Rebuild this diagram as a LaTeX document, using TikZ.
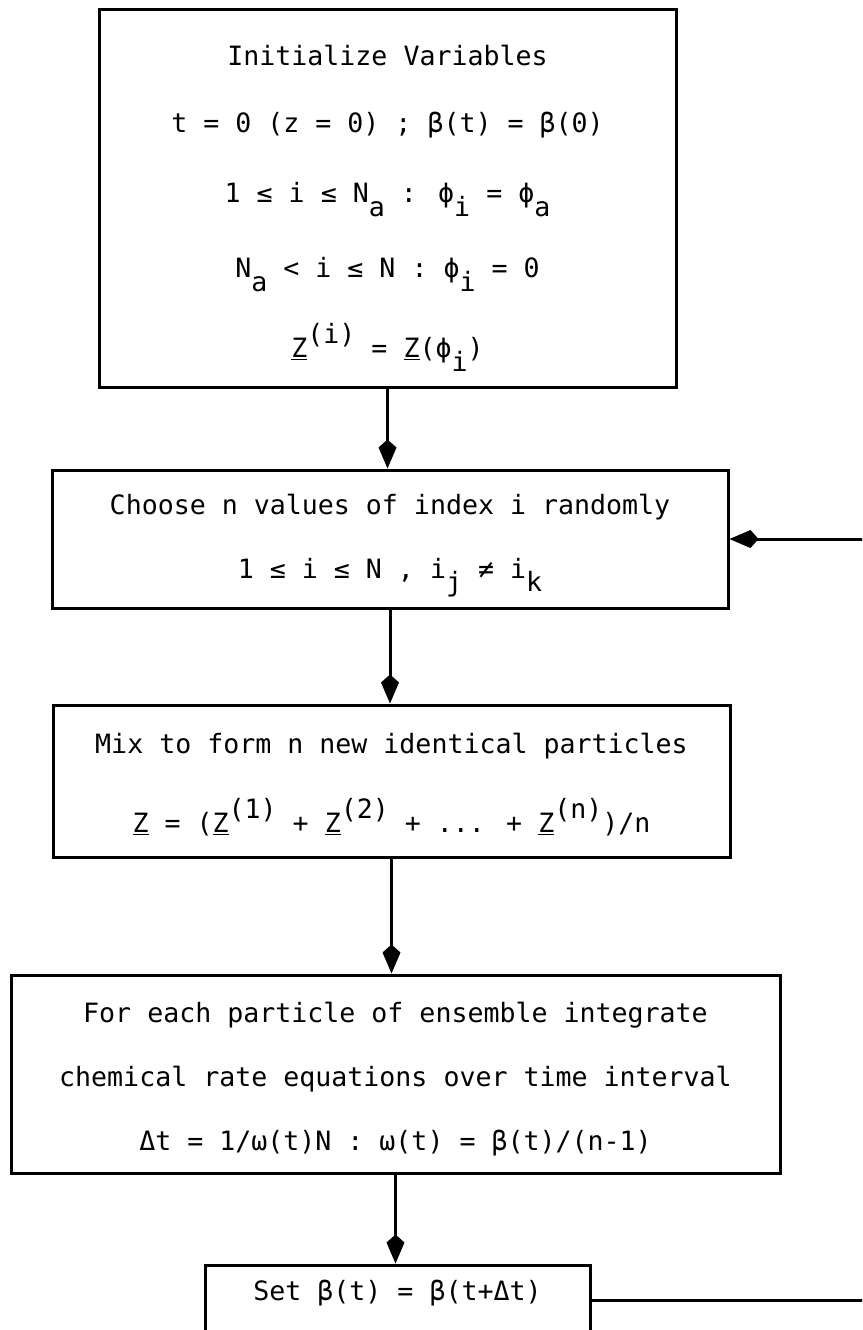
\documentclass[tikz,border=0pt]{standalone}
\usepackage{fontspec}
\newfontfamily\typefont{DejaVu Sans Mono}
\usetikzlibrary{arrows.meta}
\newcommand{\lo}[1]{\raisebox{-0.5em}{#1}}
\newcommand{\hi}[1]{\raisebox{0.55em}{#1}}
\begin{document}
\begin{tikzpicture}[x=1pt,y=-1pt,>={Kite[length=29pt,width=18pt,inset=8pt]},
  box/.style={draw,line width=3pt,align=center,inner sep=0pt,
    font=\typefont\fontsize{26.6pt}{64pt}\selectfont},
  flow/.style={->,line width=3pt}]
  \useasboundingbox (0,0) rectangle (862,1330);
  \clip (0,0) rectangle (862,1330);
  % The five steps of the mixing scheme.
  \node[box,minimum width=577pt,minimum height=377pt] (init) at (387.5,198.5)
    {\rule{0pt}{40pt}Initialize Variables\\[3pt]
     t = 0 (z = 0) ; β(t) = β(0)\\[6pt]
     1 ≤ i ≤ N\lo{a} : ϕ\lo{i} = ϕ\lo{a}\\[11pt]
     N\lo{a} < i ≤ N : ϕ\lo{i} = 0\\[16pt]
     \underline{Z}\hi{(i)} = \underline{Z}(ϕ\lo{i})};
  \node[box,minimum width=676pt,minimum height=138pt] (choose) at (390,539)
    {\rule{0pt}{34pt}Choose n values of index i randomly\\
     1 ≤ i ≤ N , i\lo{j} ≠ i\lo{k}};
  \node[box,minimum width=677pt,minimum height=152pt] (mix) at (391.5,781)
    {\rule{0pt}{28pt}Mix to form n new identical particles\\[15pt]
     \underline{Z} = (\underline{Z}\hi{(1)} + \underline{Z}\hi{(2)} + ... + \underline{Z}\hi{(n)})/n};
  \node[box,minimum width=769pt,minimum height=198pt] (integrate) at (395.5,1074)
    {\rule{0pt}{30pt}For each particle of ensemble integrate\\
     chemical rate equations over time interval\\
     Δt = 1/ω(t)N : ω(t) = β(t)/(n-1)};
  \node[box,minimum width=385pt,minimum height=70pt] (update) at (397.5,1300)
    {\rule[-20pt]{0pt}{20pt}Set β(t) = β(t+Δt)};
  % Flow down the chart.
  \draw[flow] (init.south) -- (init.south |- choose.north);
  \draw[flow] (choose.south) -- (choose.south |- mix.north);
  \draw[flow] (mix.south) -- (mix.south |- integrate.north);
  \draw[flow] (integrate.south) -- (integrate.south |- update.north);
  % Loop back to the choice of particles.
  \coordinate (back) at (895,0);
  \draw[flow] (update.east) -- (update.east -| back) |- (choose.east);
\end{tikzpicture}
\end{document}
